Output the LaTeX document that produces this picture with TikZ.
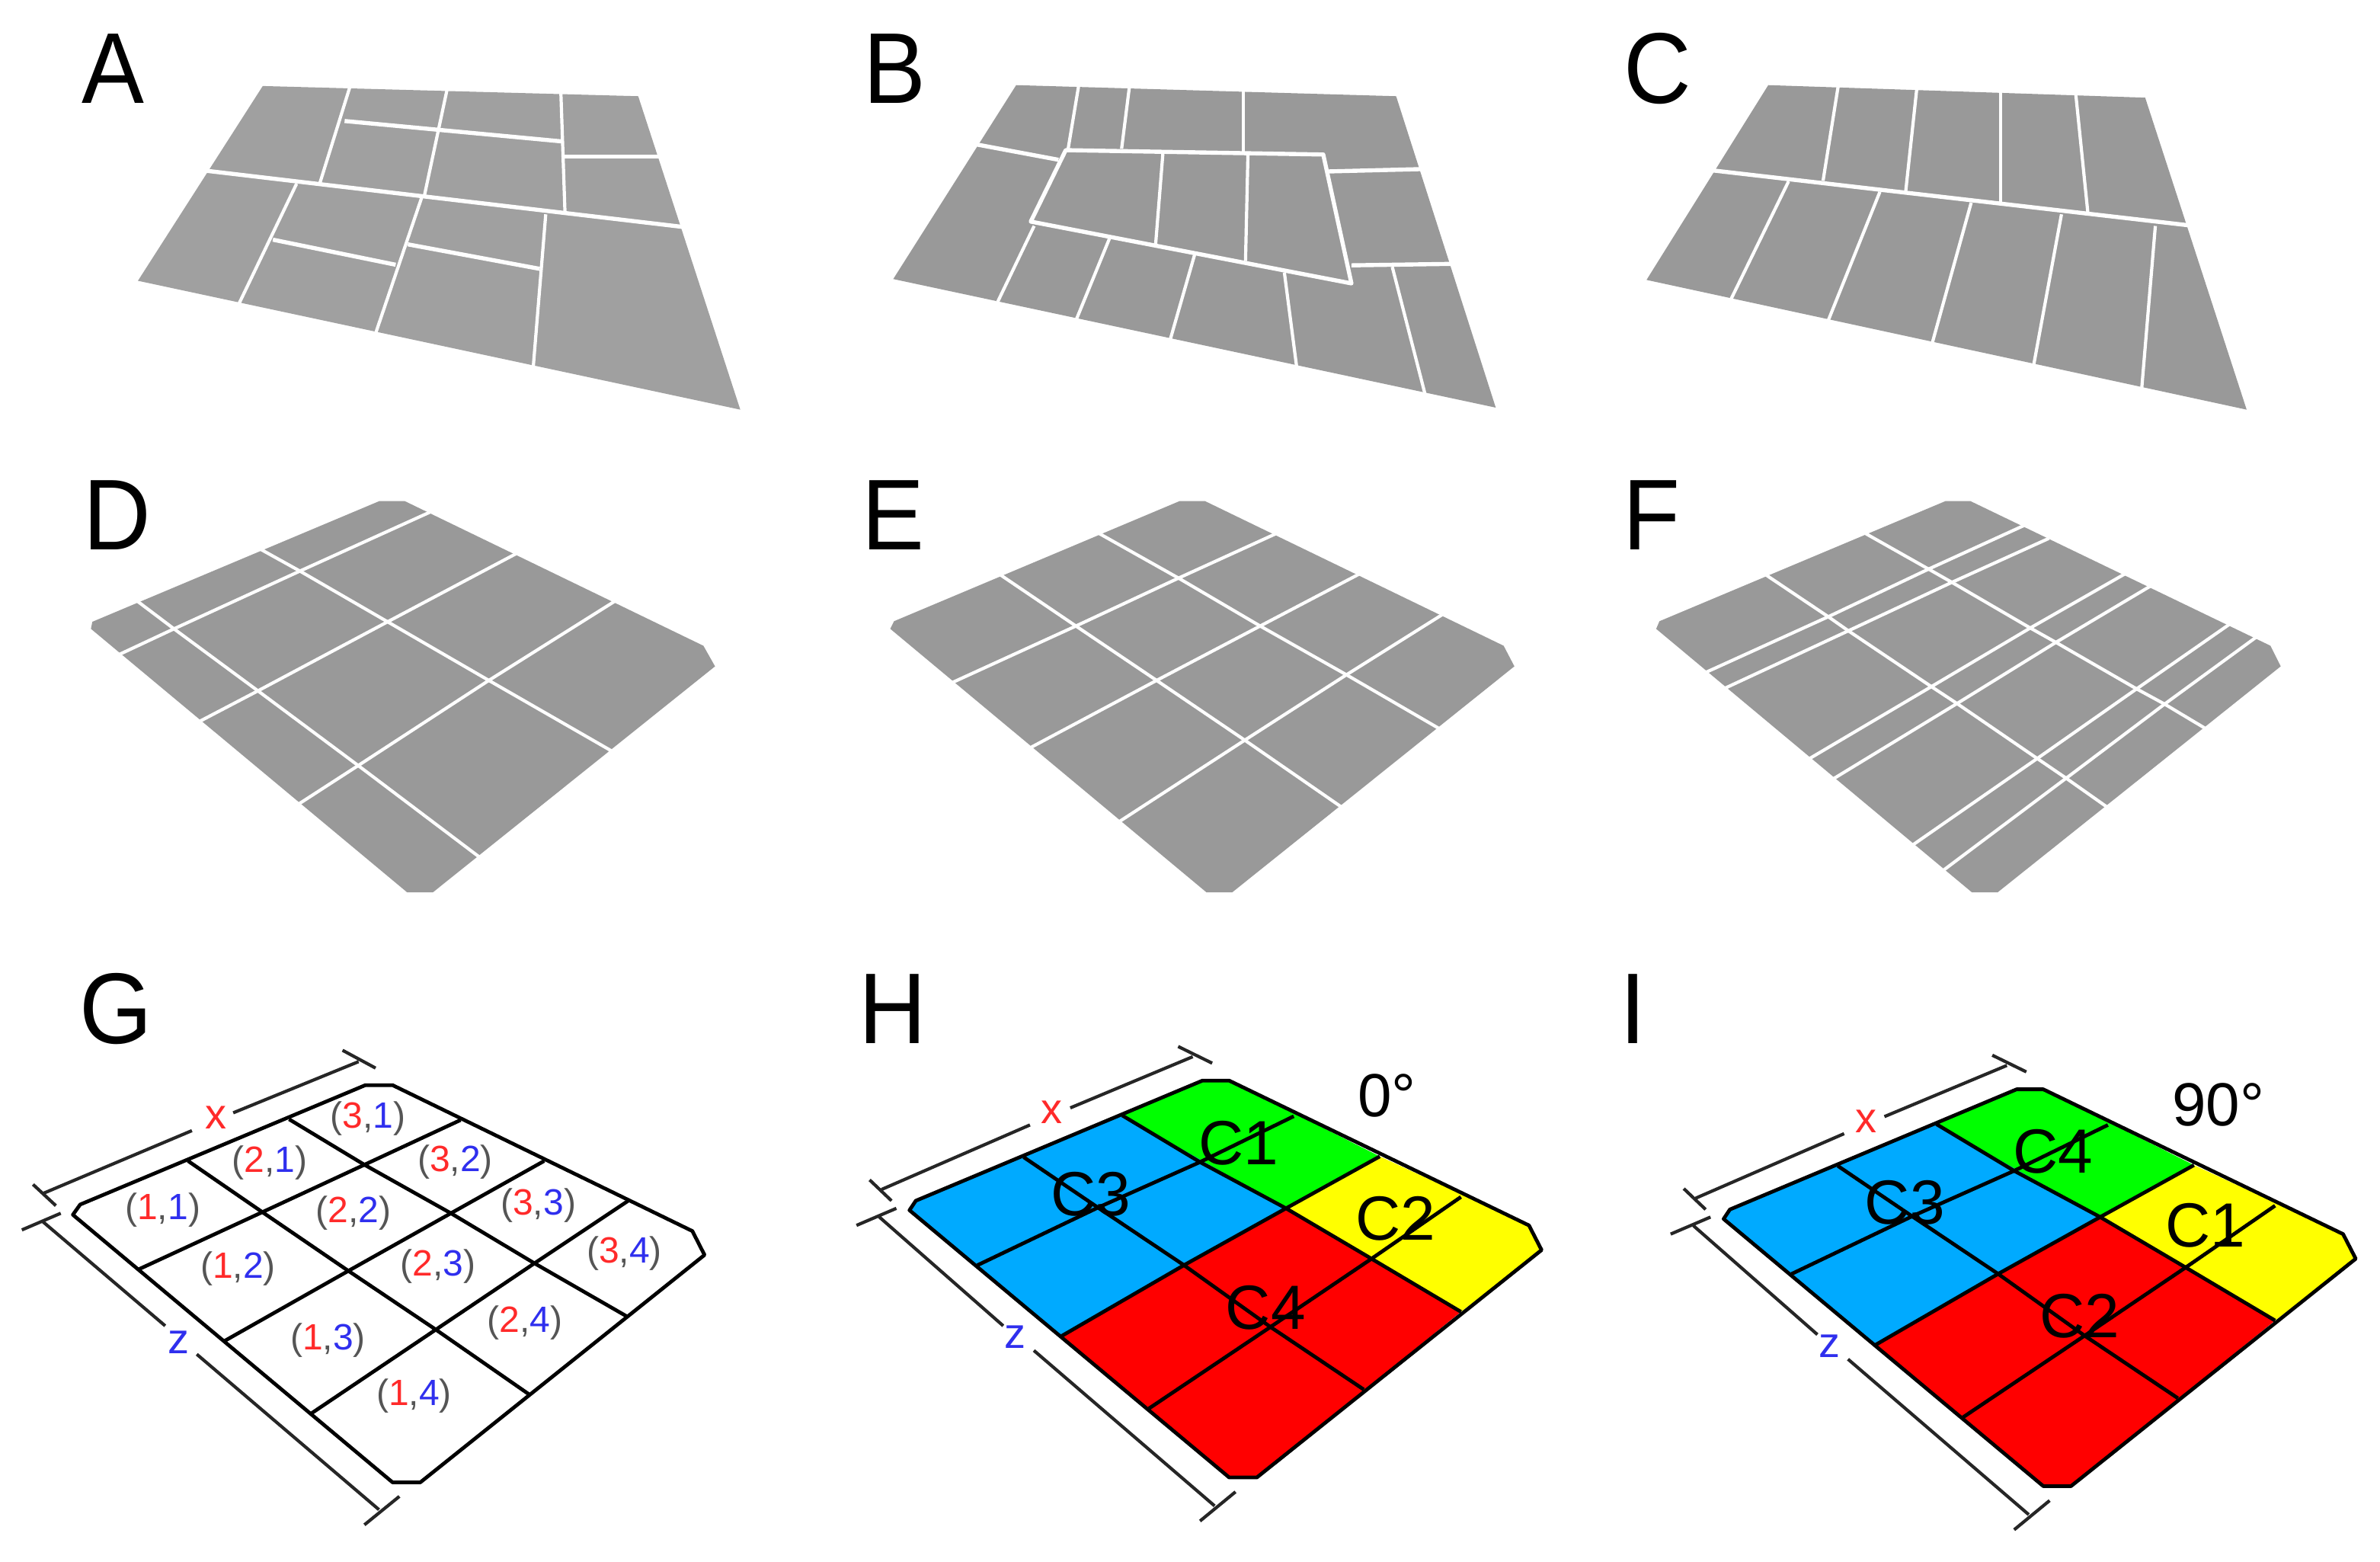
\documentclass[tikz,border=0pt]{standalone}
\usepackage{fontspec}
\setmainfont{Liberation Sans}
\newfontfamily\panelfont[FakeStretch=0.93]{Liberation Sans}
\definecolor{grayA}{HTML}{A0A0A0}
\definecolor{grayB}{HTML}{999999}
\definecolor{cellgr}{HTML}{555555}
\definecolor{cellrd}{HTML}{FF2A2A}
\definecolor{cellbl}{HTML}{2F2FEE}
\definecolor{zblue}{HTML}{00AAFF}
\definecolor{zgreen}{HTML}{00FF00}
\definecolor{zyellow}{HTML}{FFFF00}
\definecolor{zred}{HTML}{FF0000}
\tikzset{
  cut/.style={draw=white,line width=2.7pt,line cap=butt,line join=round},
  thincut/.style={draw=white,line width=2.1pt,line cap=butt,line join=round},
  rule/.style={draw=black,line width=2.4pt,line cap=butt,line join=round},
  dimline/.style={draw=black!85,line width=2.1pt,line cap=butt},
  letter/.style={font=\panelfont\fontsize{66}{66}\selectfont,inner sep=0pt,text=black},
  axisx/.style={font=\fontsize{28}{28}\selectfont,inner sep=0pt,text=cellrd},
  axisz/.style={font=\fontsize{28}{28}\selectfont,inner sep=0pt,text=cellbl},
  celllabel/.style={font=\fontsize{24}{24}\selectfont,inner sep=0pt},
  zonelabel/.style={font=\fontsize{41}{41}\selectfont,inner sep=0pt,text=black},
  anglelabel/.style={font=\fontsize{40}{40}\selectfont,inner sep=0pt,text=black},
  panelA/.style={shift={(0pt,0pt)},x=0.33163pt,y=-0.19133pt},
  panelB/.style={shift={(540pt,0pt)},x=0.31888pt,y=-0.19133pt},
  panelC/.style={shift={(1040pt,0pt)},x=0.33291pt,y=-0.19133pt},
  panelD/.style={shift={(30pt,-310pt)},x=0.30612pt,y=-0.18495pt},
  panelE/.style={shift={(550pt,-310pt)},x=0.30612pt,y=-0.18495pt},
  panelF/.style={shift={(1060pt,-310pt)},x=0.30612pt,y=-0.18495pt},
  panelG/.style={shift={(0pt,-630pt)},x=0.31888pt,y=-0.24872pt},
  panelH/.style={shift={(550pt,-630pt)},x=0.31888pt,y=-0.24872pt},
  panelI/.style={shift={(1062pt,-630pt)},x=0.31888pt,y=-0.24872pt},
}
\newcommand{\cellmark}[2]{\textcolor{cellgr}{(}\textcolor{cellrd}{#1}\textcolor{cellgr}{,}\textcolor{cellbl}{#2}\textcolor{cellgr}{)}}
% #1 node prefix, #2 green, #3 yellow, #4 blue, #5 red, #6-7 yellow label pos, #8 angle, #9 angle pos
\newcommand{\colourplate}[9]{
  \path[fill=zgreen] (585,410)--(750,318)--(805,318)--(1115,518)--(922,655)--(745,533)--cycle;
  \path[fill=zyellow] (1115,518)--(1422,700)--(1448,765)--(1282,928)--(1098,788)--(922,655)--cycle;
  \path[fill=zblue] (147,660)--(160,635)--(585,410)--(922,655)--(712,805)--(460,992)--cycle;
  \path[fill=zred] (460,992)--(712,805)--(922,655)--(1098,788)--(1282,928)--(862,1365)--(805,1365)--cycle;
  \draw[rule] (750,318)--(805,318)--(1422,700)--(1448,765)--(862,1365)--(805,1365)--(147,660)--(160,635)--cycle;
  \draw[rule] (938,412)--(745,533)--(535,653)--(287,805);
  \draw[rule] (1115,518)--(922,655)--(712,805)--(460,992);
  \draw[rule] (1282,625)--(1098,788)--(890,968)--(640,1183);
  \draw[rule] (585,410)--(745,533)--(922,655)--(1098,788)--(1282,928);
  \draw[rule] (382,520)--(535,653)--(712,805)--(890,968)--(1082,1133);
  \draw[dimline] (90,605)--(395,435) (478,390)--(730,255) (65,580)--(110,635) (700,228)--(770,272);
  \draw[dimline] (85,678)--(340,965) (403,1030)--(775,1440) (38,700)--(120,655) (745,1480)--(818,1403);
  \node[axisx] (#1x) at (440,402) {x};
  \node[axisz] (#1z) at (365,995) {z};
  \node[zonelabel] (#1green) at (825,482) {#2};
  \node[zonelabel] (#1yellow) at (#6,#7) {#3};
  \node[zonelabel] (#1blue) at (520,617) {#4};
  \node[zonelabel] (#1red) at (880,917) {#5};
  \node[anglelabel] (#1angle) at (#9,358) {#8};
}
\begin{document}
\begin{tikzpicture}
\useasboundingbox (0pt,0pt) rectangle (1562pt,-1024.5pt);
\fill[white] (0pt,0pt) rectangle (1562pt,-1024.5pt);

% A
\begin{scope}[panelA]
  \fill[grayA] (520,295)--(1263,330)--(1465,1405)--(273,963)--cycle;
  \draw[cut] (405,585)--(1350,778);
  \draw[cut] (682,415)--(1112,485);
  \draw[cut] (1115,537)--(1310,537);
  \draw[cut] (540,822)--(783,908);
  \draw[cut] (807,838)--(1068,922);
  \draw[thincut] (693,295)--(633,628);
  \draw[thincut] (885,305)--(840,670);
  \draw[thincut] (835,675)--(743,1145);
  \draw[thincut] (1110,320)--(1118,725);
  \draw[thincut] (587,630)--(472,1045);
  \draw[thincut] (1080,735)--(1055,1265);
\end{scope}
% B
\begin{scope}[panelB]
  \fill[grayB] (398,292)--(1180,330)--(1385,1398)--(145,957)--cycle;
  \draw[cut] (500,515)--(1030,530)--(1088,972)--(428,760)--cycle;
  \draw[cut] (315,495)--(485,548);
  \draw[cut] (1040,588)--(1232,580);
  \draw[cut] (1088,910)--(1295,905);
  \draw[thincut] (527,290)--(505,510);
  \draw[thincut] (631,298)--(615,510);
  \draw[thincut] (865,308)--(865,520);
  \draw[thincut] (700,525)--(685,838);
  \draw[thincut] (875,530)--(870,895);
  \draw[thincut] (435,775)--(360,1035);
  \draw[thincut] (590,818)--(522,1095);
  \draw[thincut] (765,875)--(715,1165);
  \draw[thincut] (950,935)--(975,1255);
  \draw[thincut] (1172,915)--(1240,1355);
\end{scope}
% C
\begin{scope}[panelC]
  \fill[grayB] (362,292)--(1105,335)--(1305,1405)--(122,960)--cycle;
  \draw[cut] (250,584)--(1192,773);
  \draw[thincut] (500,293)--(470,620);
  \draw[thincut] (655,300)--(633,655);
  \draw[thincut] (820,310)--(820,695);
  \draw[thincut] (968,320)--(992,730);
  \draw[thincut] (402,622)--(288,1028);
  \draw[thincut] (582,658)--(480,1100);
  \draw[thincut] (762,695)--(685,1178);
  \draw[thincut] (940,735)--(885,1254);
  \draw[thincut] (1125,775)--(1098,1336);
\end{scope}
% D
\begin{scope}[panelD]
  \fill[grayB] (715,102)--(770,102)--(1410,615)--(1435,688)--(830,1490)--(775,1490)--(97,555)--(100,530)--cycle;
  \draw[thincut] (825,140)--(545,350)--(275,555)--(155,648);
  \draw[thincut] (1010,287)--(733,530)--(455,775)--(328,885);
  \draw[thincut] (1222,455)--(950,738)--(670,1040)--(542,1177);
  \draw[thincut] (460,272)--(545,350)--(733,530)--(950,738)--(1215,990);
  \draw[thincut] (195,455)--(275,555)--(455,775)--(670,1040)--(930,1365);
\end{scope}
% E
\begin{scope}[panelE]
  \fill[grayB] (732,102)--(787,102)--(1427,615)--(1450,688)--(845,1490)--(790,1490)--(112,555)--(120,528)--cycle;
  \draw[thincut] (938,218)--(730,375)--(510,545)--(243,747);
  \draw[thincut] (1118,360)--(905,545)--(683,738)--(412,977);
  \draw[thincut] (1295,505)--(1090,718)--(872,950)--(602,1240);
  \draw[thincut] (558,215)--(730,375)--(905,545)--(1090,718)--(1290,910);
  \draw[thincut] (345,360)--(510,545)--(683,738)--(872,950)--(1080,1188);
\end{scope}
% F
\begin{scope}[panelF]
  \fill[grayB] (708,102)--(762,102)--(1405,615)--(1427,688)--(820,1490)--(765,1490)--(88,555)--(95,528)--cycle;
  \draw[thincut] (877,188)--(672,343)--(457,512)--(195,709);
  \draw[thincut] (930,234)--(722,390)--(500,562)--(235,766);
  \draw[thincut] (1093,360)--(890,552)--(678,760)--(415,1017);
  \draw[thincut] (1148,403)--(945,603)--(733,820)--(468,1087);
  \draw[thincut] (1316,540)--(1118,768)--(905,1015)--(637,1323);
  \draw[thincut] (1374,585)--(1178,822)--(967,1085)--(705,1410);
  \draw[thincut] (535,215)--(672,343)--(722,390)--(890,552)--(945,603)--(1118,768)--(1178,822)--(1267,910);
  \draw[thincut] (320,360)--(457,512)--(500,562)--(678,760)--(733,820)--(905,1015)--(967,1085)--(1057,1190);
\end{scope}
% G
\begin{scope}[panelG]
  \draw[rule] (752,330)--(808,330)--(1425,715)--(1450,778)--(865,1378)--(808,1378)--(150,672)--(165,645)--cycle;
  \draw[rule] (948,422)--(750,540)--(540,665)--(287,815);
  \draw[rule] (1120,530)--(928,668)--(717,820)--(462,1005);
  \draw[rule] (1293,635)--(1100,800)--(897,975)--(642,1195);
  \draw[rule] (595,420)--(750,540)--(928,668)--(1100,800)--(1290,940);
  \draw[rule] (387,530)--(540,665)--(717,820)--(897,975)--(1088,1145);
  \draw[dimline] (90,615)--(395,450) (480,403)--(738,268) (68,592)--(115,648) (705,238)--(773,285);
  \draw[dimline] (88,690)--(340,965) (405,1040)--(780,1450) (45,712)--(125,668) (750,1490)--(822,1415);
  \node[axisx] (gx) at (445,416) {x};
  \node[axisz] (gz) at (368,1008) {z};
  \node[celllabel] (c11) at (335,660) {\cellmark{1}{1}};
  \node[celllabel] (c21) at (555,535) {\cellmark{2}{1}};
  \node[celllabel] (c31) at (757,418) {\cellmark{3}{1}};
  \node[celllabel] (c12) at (490,815) {\cellmark{1}{2}};
  \node[celllabel] (c22) at (728,668) {\cellmark{2}{2}};
  \node[celllabel] (c32) at (937,533) {\cellmark{3}{2}};
  \node[celllabel] (c13) at (675,1003) {\cellmark{1}{3}};
  \node[celllabel] (c23) at (902,808) {\cellmark{2}{3}};
  \node[celllabel] (c33) at (1108,648) {\cellmark{3}{3}};
  \node[celllabel] (c14) at (852,1150) {\cellmark{1}{4}};
  \node[celllabel] (c24) at (1080,957) {\cellmark{2}{4}};
  \node[celllabel] (c34) at (1285,775) {\cellmark{3}{4}};
\end{scope}
% H
\begin{scope}[panelH]
  \colourplate{h}{C1}{C2}{C3}{C4}{1148}{682}{0°}{1130}
\end{scope}
% I
\begin{scope}[panelI,shift={(70,23)}]
  \colourplate{i}{C4}{C1}{C3}{C2}{1138}{678}{90°}{1165}
\end{scope}
% panel letters
\node[letter] (lA) at (74pt,-45pt) {A};
\node[letter] (lB) at (587pt,-45pt) {B};
\node[letter] (lC) at (1088pt,-45pt) {C};
\node[letter] (lD) at (77pt,-338pt) {D};
\node[letter] (lE) at (586pt,-338pt) {E};
\node[letter] (lF) at (1084pt,-338pt) {F};
\node[letter] (lG) at (76pt,-662pt) {G};
\node[letter] (lH) at (586pt,-662pt) {H};
\node[letter] (lI) at (1072pt,-662pt) {I};
\end{tikzpicture}
\end{document}
